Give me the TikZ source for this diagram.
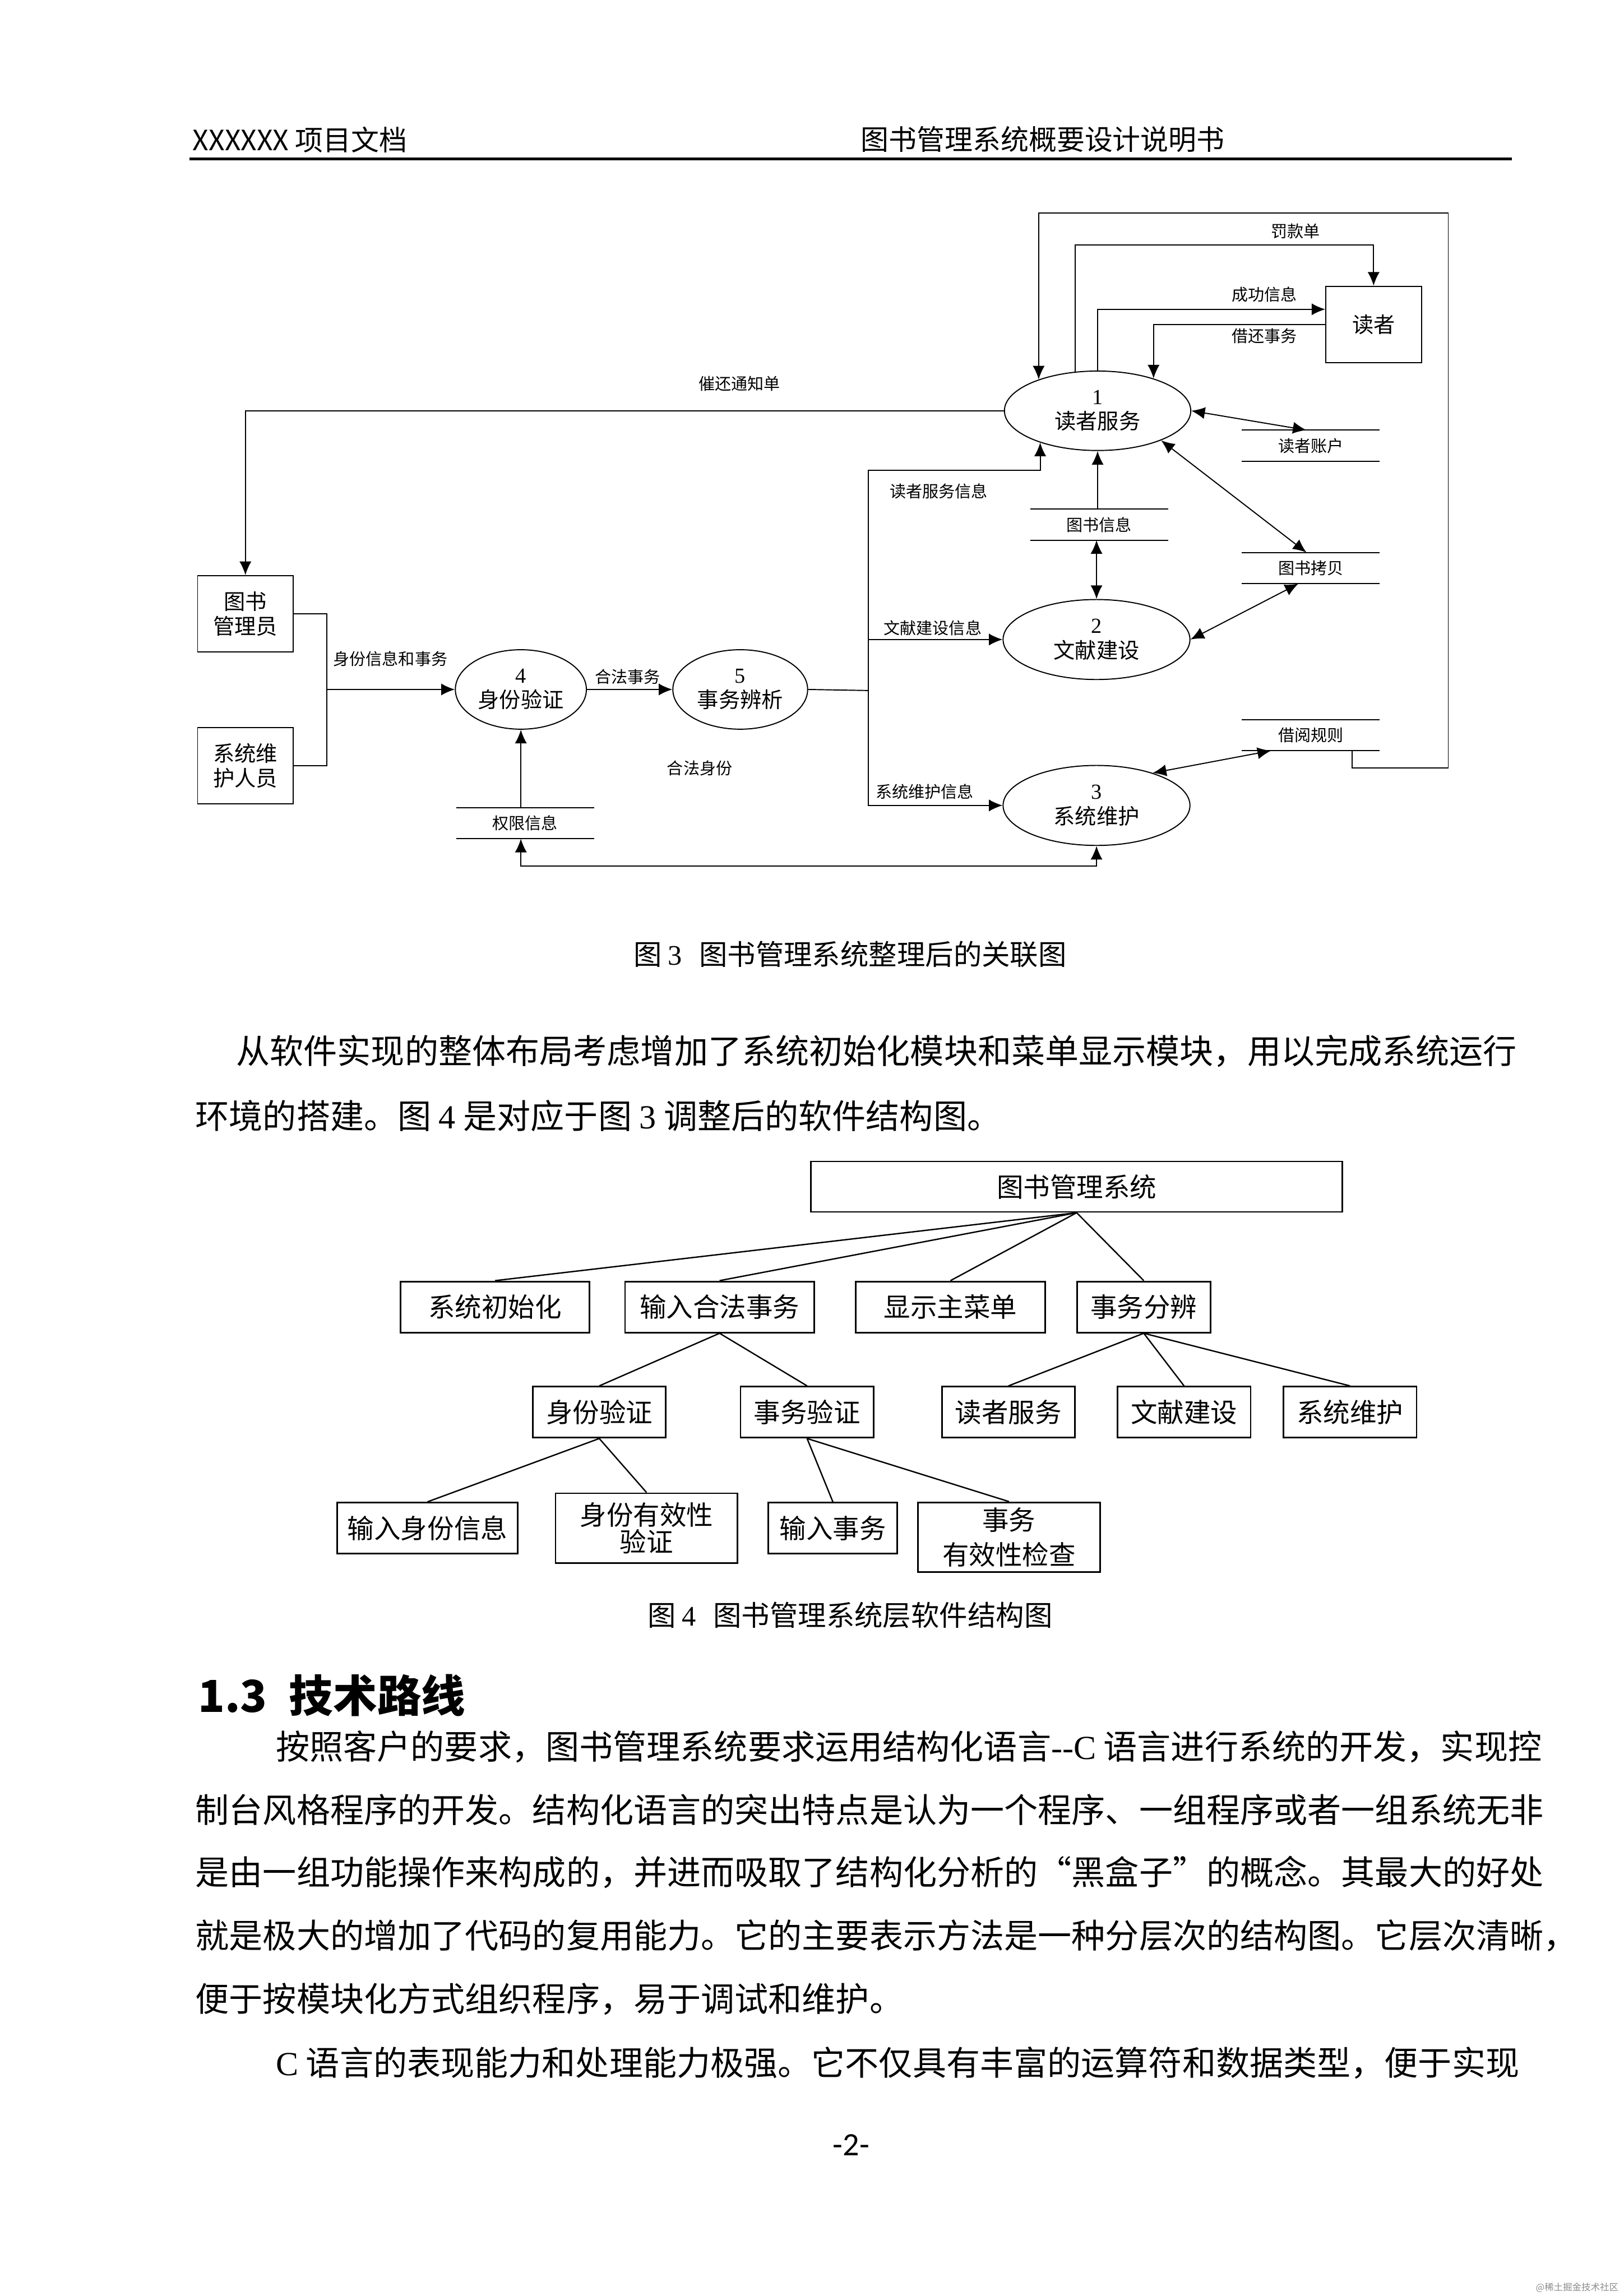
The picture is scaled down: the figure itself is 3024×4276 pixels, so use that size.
\documentclass[tikz,border=0pt]{standalone}
\usepackage{fontspec}
\setmainfont{Noto Sans CJK SC}
\newfontfamily\latinfont{Liberation Serif}
\newfontfamily\pagenofont{Carlito}
\usepackage{tikz}
\usetikzlibrary{shapes, positioning, arrows.meta}
\newlength{\Pix}
\setlength\Pix{0.069444mm}
\newcommand{\hdrsize}{\fontsize{10.3}{12}\selectfont}
\newcommand{\txtsize}{\fontsize{12.4}{15}\selectfont}
\newcommand{\capsize}{\fontsize{10.4}{12}\selectfont}
\newcommand{\headsize}{\fontsize{16.2}{19}\selectfont}
\newcommand{\procsize}{\fontsize{7.9}{9.1}\selectfont}
\newcommand{\flowsize}{\fontsize{6}{7}\selectfont}
\newcommand{\modsize}{\fontsize{9.8}{9.9}\selectfont}

\begin{document}
\begin{tikzpicture}[
    x = 0.069444mm, y = -0.069444mm,
    proc/.style = {
      ellipse, draw, line width = 0.4pt, inner sep = 0pt, align = center,
      font = \procsize
    },
    extern/.style = {
      rectangle, draw, line width = 0.4pt, inner sep = 0pt, align = center,
      minimum width = 178\Pix, minimum height = 142\Pix, font = \procsize
    },
    store/.style = {
      rectangle, inner sep = 0pt, minimum width = 255\Pix,
      minimum height = 56\Pix, font = \flowsize
    },
    flowtxt/.style = {inner sep = 0pt, font = \flowsize},
    flow/.style = {
      -{Latex[length = 5pt, width = 4.4pt]}, line width = 0.4pt
    },
    biflow/.style = {
      {Latex[length = 5pt, width = 4.4pt]}-{Latex[length = 5pt, width = 4.4pt]},
      line width = 0.4pt
    },
    wire/.style = {line width = 0.4pt},
    module/.style = {
      rectangle, draw, line width = 0.6pt, inner sep = 0pt, align = center,
      minimum height = 95\Pix, font = \modsize
    },
    tie/.style = {line width = 0.5pt},
    bodytxt/.style = {anchor = west, inner sep = 0pt, font = \txtsize},
    ]

    \fill [white] (0,0) rectangle (3024,4276);
    \useasboundingbox (0,0) rectangle (3024,4276);

    % page header
    \node  [anchor = west, inner sep = 0pt, font = \hdrsize]  (hdrleft)  at (358,260)  {XXXXXX 项目文档};
    \node  [anchor = west, inner sep = 0pt, font = \hdrsize]  (hdrright)  at (1602,260)  {图书管理系统概要设计说明书};
    \draw  [line width = 1.1pt]  (353,296) -- (2816,296);

    % draw entities and processes
    \node  [extern]  (reader)  at (2558,604)  {读者};
    \node  [extern]  (admin)  at (457,1143)  {图书\\管理员};
    \node  [extern]  (keeper)  at (457,1426)  {系统维\\护人员};

    \node  [proc, minimum width = 347\Pix, minimum height = 148\Pix]  (p1)  at (2044,765)  {{\latinfont 1}\\读者服务};
    \node  [proc, minimum width = 348\Pix, minimum height = 149\Pix]  (p2)  at (2042,1191)  {{\latinfont 2}\\文献建设};
    \node  [proc, minimum width = 348\Pix, minimum height = 149\Pix]  (p3)  at (2042,1500)  {{\latinfont 3}\\系统维护};
    \node  [proc, minimum width = 244\Pix, minimum height = 148\Pix]  (p4)  at (970,1284)  {{\latinfont 4}\\身份验证};
    \node  [proc, minimum width = 251\Pix, minimum height = 148\Pix]  (p5)  [right = 159\Pix of p4]  {{\latinfont 5}\\事务辨析};

    % draw data stores
    \node  [store]  (zhanghu)  at (2441,830)  {读者账户};
    \node  [store]  (bookinfo)  at (2047,977)  {图书信息};
    \node  [store]  (copies)  at (2441,1058)  {图书拷贝};
    \node  [store]  (rules)  at (2441,1369)  {借阅规则};
    \node  [store]  (rights)  at (978,1533)  {权限信息};

    \foreach \s in {zhanghu, bookinfo, copies, rules, rights}
    \draw  [wire]  (\s.north west) -- (\s.north east) (\s.south west) -- (\s.south east);

    % route points
    \coordinate  (loopTop)  at (2697,397);
    \coordinate  (loopBot)  at (2697,1430);
    \coordinate  (fineLevel)  at (0,456);
    \coordinate  (bus)  at (1617,1286);
    \coordinate  (busTop)  at (1617,876);
    \coordinate  (join)  at (609,1284);
    \coordinate  (base)  at (0,1613);

    % draw paths
    \draw  [flow]  ([xshift = -52\Pix]rules.south east) |- (loopBot) -- (loopTop) -- (loopTop -| p1.152) -- (p1.152);
    \draw  [flow]  (p1.120) -- (p1.120 |- fineLevel) -| (reader.north);
    \draw  [flow]  (p1.north) |- ([yshift = 28\Pix]reader.west);
    \draw  [flow]  (reader.west) -| (p1.30);
    \draw  [biflow]  (p1.east) -- ([xshift = -8\Pix]zhanghu.north);
    \draw  [biflow]  (p1.335) -- ([xshift = -8\Pix]copies.north);
    \draw  [flow]  (bookinfo.north -| p1.south) -- (p1.south);
    \draw  [biflow]  (bookinfo.south -| p2.north) -- (p2.north);
    \draw  [biflow]  ([xshift = -23\Pix]copies.south) -- (p2.east);
    \draw  [biflow]  ([xshift = -74\Pix]rules.south) -- (p3.30);
    \draw  [flow]  (p1.west) -| (admin.north);

    \draw  [wire]  (p5.east) -- (bus);
    \draw  [flow]  (bus) |- (busTop -| p1.209) -- (p1.209);
    \draw  [flow]  (bus) |- (p2.west);
    \draw  [flow]  (bus) |- (p3.west);

    \draw  [wire]  (admin.east) -| (join);
    \draw  [wire]  (keeper.east) -| (join);
    \draw  [flow]  (join) -- (p4.west);
    \draw  [flow]  (p4.east) -- (p5.west);
    \draw  [flow]  (rights.north -| p4.south) -- (p4.south);
    \draw  [biflow]  (rights.south -| p4.south) -- (base -| p4.south) -- (base -| p3.south) -- (p3.south);

    % flow labels
    \node  [flowtxt]  (t-fine)  at (2413,431)  {罚款单};
    \node  [flowtxt]  (t-ok)  at (2355,548)  {成功信息};
    \node  [flowtxt]  (t-borrow)  at (2355,626)  {借还事务};
    \node  [flowtxt]  (t-notice)  at (1377,715)  {催还通知单};
    \node  [flowtxt]  (t-svc)  at (1748,915)  {读者服务信息};
    \node  [flowtxt]  (t-lit)  at (1737,1170)  {文献建设信息};
    \node  [flowtxt]  (t-maint)  at (1722,1474)  {系统维护信息};
    \node  [flowtxt]  (t-id)  at (727,1227)  {身份信息和事务};
    \node  [flowtxt]  (t-legal)  at (1169,1261)  {合法事务};
    \node  [flowtxt]  (t-legalid)  at (1303,1431)  {合法身份};

    % caption
    \node  [inner sep = 0pt, font = \capsize]  (cap3)  at (1583,1777)  {图 {\latinfont 3}\hspace{0.6em}图书管理系统整理后的关联图};

    % body text
    \node  [bodytxt]  (txt-a1)  at (439,1958)  {从软件实现的整体布局考虑增加了系统初始化模块和菜单显示模块，用以完成系统运行};
    \node  [bodytxt]  (txt-a2)  at (363,2078)  {环境的搭建。图 {\latinfont 4} 是对应于图 {\latinfont 3} 调整后的软件结构图。};

    % draw structure chart
    \node  [module, minimum width = 990\Pix, minimum height = 94\Pix]  (sys)  at (2005,2210)  {图书管理系统};

    \foreach \n/\x/\w/\t in {init/922/352/系统初始化, input/1340/352/输入合法事务, menu/1770/352/显示主菜单, dispatch/2130/249/事务分辨}
    \node  [module, minimum width = \w\Pix]  (\n)  at (\x,2434)  {\t};

    \foreach \n/\x/\t in {idchk/1116/身份验证, txchk/1503/事务验证, svc/1878/读者服务, lit/2205/文献建设, maint/2514/系统维护}
    \node  [module, minimum width = 248\Pix]  (\n)  at (\x,2630)  {\t};

    \node  [module, minimum width = 337\Pix]  (idin)  at (796,2846)  {输入身份信息};
    \node  [module, minimum width = 339\Pix, minimum height = 130\Pix]  (idval)  at (1204,2846)  {身份有效性\\验证};
    \node  [module, minimum width = 240\Pix]  (txin)  at (1551,2846)  {输入事务};
    \node  [module, minimum width = 340\Pix, minimum height = 130\Pix]  (txval)  at (1879,2863)  {事务\\[3pt]有效性检查};

    \foreach \a/\b in {sys/init, sys/input, sys/menu, sys/dispatch, input/idchk, input/txchk, dispatch/svc, dispatch/lit, dispatch/maint, idchk/idin, idchk/idval, txchk/txin, txchk/txval}
    \draw  [tie]  (\a.south) -- (\b.north);

    \node  [inner sep = 0pt, font = \capsize]  (cap4)  at (1583,3008)  {图 {\latinfont 4}\hspace{0.6em}图书管理系统层软件结构图};

    % section text
    \node  [anchor = west, inner sep = 0pt, font = \headsize\bfseries]  (sec)  at (368,3157)  {1.3\hspace{0.5em}技术路线};
    \node  [bodytxt]  (txt-b1)  at (513,3253)  {按照客户的要求，图书管理系统要求运用结构化语言{\latinfont -{}-C} 语言进行系统的开发，实现控};
    \node  [bodytxt]  (txt-b2)  at (363,3370)  {制台风格程序的开发。结构化语言的突出特点是认为一个程序、一组程序或者一组系统无非};
    \node  [bodytxt]  (txt-b3)  at (363,3487)  {是由一组功能操作来构成的，并进而吸取了结构化分析的“黑盒子”的概念。其最大的好处};
    \node  [bodytxt]  (txt-b4)  at (363,3605)  {就是极大的增加了代码的复用能力。它的主要表示方法是一种分层次的结构图。它层次清晰，};
    \node  [bodytxt]  (txt-b5)  at (363,3723)  {便于按模块化方式组织程序，易于调试和维护。};
    \node  [bodytxt]  (txt-c1)  at (513,3842)  {{\latinfont C} 语言的表现能力和处理能力极强。它不仅具有丰富的运算符和数据类型，便于实现};

    % footer
    \node  [inner sep = 0pt, font = \pagenofont\fontsize{12}{14}\selectfont]  (pageno)  at (1585,3995)  {-2-};
    \node  [anchor = east, inner sep = 0pt, text = black!45, font = \fontsize{3.4}{4}\selectfont]  (wmark)  at (3015,4260)  {@稀土掘金技术社区};
\end{tikzpicture}
\end{document}
